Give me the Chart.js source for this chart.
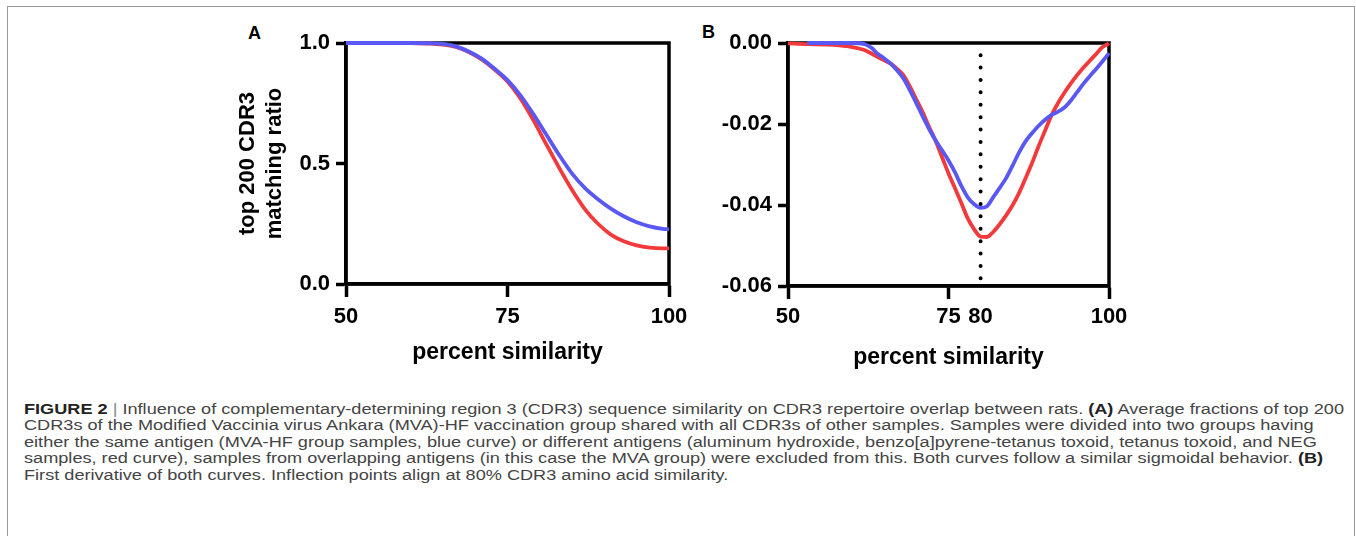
<!DOCTYPE html>
<html><head><meta charset="utf-8">
<script src="https://cdn.jsdelivr.net/npm/chart.js@4.4.1/dist/chart.umd.min.js"></script>
<style>
html,body{margin:0;padding:0;background:#fff;}
body{width:1356px;height:536px;position:relative;overflow:hidden;font-family:"Liberation Sans",Arial,sans-serif;}
#frame{position:absolute;left:7px;top:6px;width:1348px;height:600px;border:1.5px solid #9b9b9b;border-bottom:none;box-sizing:border-box;}
.wrap{position:absolute;top:0;overflow:hidden;}
#wa{left:200px;width:500px;height:390px;}
#wb{left:700px;width:428px;height:390px;}
.panel{position:absolute;font:bold 18px "Liberation Sans",Arial,sans-serif;line-height:18px;color:#000;}
.cap{position:absolute;left:24px;white-space:nowrap;font-family:"Liberation Sans Narrow","Liberation Sans",Arial,sans-serif;font-size:15.5px;line-height:16px;color:#444;transform-origin:0 50%;}
.cap b{color:#222;}
.cap .sep{color:#888;}
</style></head>
<body>
<div id="frame"></div>
<div class="panel" style="left:248px;top:24px;">A</div>
<div class="panel" style="left:702px;top:23px;">B</div>
<div class="wrap" id="wa"><canvas id="ca" width="500" height="390"></canvas></div>
<div class="wrap" id="wb"><canvas id="cb" width="450" height="390"></canvas></div>
<div id="caption">
<div class="cap"><b>FIGURE 2</b> <span class="sep">|</span> Influence of complementary-determining region 3 (CDR3) sequence similarity on CDR3 repertoire overlap between rats. <b>(A)</b> Average fractions of top 200</div>
<div class="cap">CDR3s of the Modified Vaccinia virus Ankara (MVA)-HF vaccination group shared with all CDR3s of other samples. Samples were divided into two groups having</div>
<div class="cap">either the same antigen (MVA-HF group samples, blue curve) or different antigens (aluminum hydroxide, benzo[a]pyrene-tetanus toxoid, tetanus toxoid, and NEG</div>
<div class="cap">samples, red curve), samples from overlapping antigens (in this case the MVA group) were excluded from this. Both curves follow a similar sigmoidal behavior. <b>(B)</b></div>
<div class="cap">First derivative of both curves. Inflection points align at 80% CDR3 amino acid similarity.</div>
</div>
<script>
// ---------- data ----------
const A_X = [50,55,60,63,65,67,69,71,73,75,77,79,81,83,85,87,89,91,93,95,97,99,100];
const A_BLUE = [1.0,1.0,1.0,0.999,0.996,0.986,0.965,0.935,0.893,0.846,0.783,0.705,0.62,0.535,0.458,0.398,0.352,0.313,0.281,0.256,0.239,0.229,0.227];
const A_RED  = [1.0,1.0,1.0,0.998,0.993,0.984,0.963,0.932,0.89,0.84,0.77,0.68,0.58,0.482,0.39,0.31,0.25,0.205,0.177,0.16,0.151,0.148,0.148];

const B_X = [50,53,56,58,60,62,63,64,65,66,67,68,69,70,71,72,73,74,75,76,77,78,79,80,81,82,83,84,85,86,87,88,89,90,91,92,93,94,95,96,97,98,99,100];
const B_RED = [-0.0001,-0.0003,-0.0004,-0.0006,-0.001,-0.0018,-0.0026,-0.0035,-0.0043,-0.0051,-0.0064,-0.008,-0.0108,-0.014,-0.0172,-0.0208,-0.0242,-0.0282,-0.0322,-0.0358,-0.0395,-0.0433,-0.046,-0.0478,-0.0479,-0.0466,-0.0447,-0.0425,-0.04,-0.037,-0.0334,-0.0297,-0.0256,-0.0218,-0.018,-0.015,-0.0124,-0.0101,-0.008,-0.0061,-0.0044,-0.0027,-0.001,-0.0001];
const B_BLUE = [null,0,0,0,0,-0.0003,-0.0012,-0.0027,-0.0038,-0.0051,-0.0068,-0.0088,-0.0117,-0.0149,-0.0182,-0.0213,-0.0241,-0.0265,-0.029,-0.0319,-0.0353,-0.0381,-0.0398,-0.0407,-0.0403,-0.038,-0.0357,-0.0333,-0.0302,-0.027,-0.0243,-0.0223,-0.0205,-0.019,-0.0178,-0.017,-0.016,-0.0143,-0.0122,-0.0101,-0.0082,-0.0064,-0.0045,-0.0025];

const A_X_TICKS = [50, 75, 100];
const A_Y_TICKS = [0, 0.5, 1.0];
const B_X_TICKS = [50, 75, 80, 100];
const B_Y_TICKS = [-0.06, -0.04, -0.02, 0];
const MARK_X = 80;              // inflection point marker
const MARK_Y = [-0.003, -0.0583];

// ---------- styles ----------
const RED = '#f23a3c', BLUE = '#5a58f4';
const FONT = '"Liberation Sans", Arial, sans-serif';
const tickFont = {family: FONT, size: 22, weight: 'bold'};
const titleFont = {family: FONT, size: 23, weight: 'bold'};
const yTitleFont = {family: FONT, size: 22, weight: 'bold'};

const pts = (xs, ys) => xs.map((x, i) => ({x, y: ys[i]}));

const framePlugin = {
  id: 'frame',
  beforeDatasetsDraw(chart) {
    const {ctx, chartArea: {left, top, right, bottom}} = chart;
    ctx.save();
    ctx.strokeStyle = '#000';
    ctx.lineWidth = 3.5;
    ctx.strokeRect(left, top, right - left, bottom - top);
    ctx.restore();
  }
};

function curve(data, color) {
  return {data, borderColor: color, borderWidth: 3.8, pointRadius: 0, fill: false,
          cubicInterpolationMode: 'monotone', clip: false, spanGaps: false};
}

function makeChart(id, cfg) {
  return new Chart(document.getElementById(id), {
    type: 'line',
    data: {datasets: cfg.datasets},
    options: {
      responsive: false, animation: false, devicePixelRatio: 1,
      layout: {padding: cfg.padding},
      plugins: {legend: {display: false}, tooltip: {enabled: false}},
      scales: {
        x: {
          type: 'linear', min: 50, max: 100,
          afterBuildTicks: s => { s.ticks = cfg.xTicks.map(v => ({value: v})); },
          afterFit: s => { s.height = cfg.xAxisH; },
          ticks: {autoSkip: false, maxRotation: 0, color: '#000', font: tickFont, padding: cfg.xTickPad,
                  callback: v => String(v)},
          grid: {drawOnChartArea: false, drawTicks: true, tickLength: 13, tickWidth: 3.5,
                 tickColor: c => (c.tick && c.tick.value === MARK_X) ? 'rgba(0,0,0,0)' : '#000'},
          border: {display: true, width: 3.5, color: '#000'},
          title: {display: true, text: 'percent similarity', color: '#000', font: titleFont,
                  padding: {top: 0, bottom: cfg.xTitlePad}}
        },
        y: {
          type: 'linear', min: cfg.yMin, max: cfg.yMax,
          afterBuildTicks: s => { s.ticks = cfg.yTicks.map(v => ({value: v})); },
          afterFit: s => { s.width = cfg.yAxisW; },
          ticks: {color: '#000', font: tickFont, padding: 6, callback: cfg.yFmt},
          grid: {drawOnChartArea: false, drawTicks: true, tickLength: 10, tickWidth: 3.5, tickColor: '#000'},
          border: {display: true, width: 3.5, color: '#000'},
          title: cfg.yTitle ? {display: true, text: cfg.yTitle, color: '#000', font: yTitleFont,
                  padding: {top: 35, bottom: 0}} : {display: false}
        }
      }
    },
    plugins: [framePlugin]
  });
}

makeChart('ca', {
  datasets: [curve(pts(A_X, A_BLUE), BLUE), curve(pts(A_X, A_RED), RED)],
  padding: {left: 0, top: 43, right: 31, bottom: 0},
  xTicks: A_X_TICKS, yTicks: A_Y_TICKS, yMin: 0, yMax: 1,
  xAxisH: 106, yAxisW: 146, xTickPad: 7, xTitlePad: 24,
  yFmt: v => Number(v).toFixed(1),
  yTitle: ['top 200 CDR3', 'matching ratio']
});

makeChart('cb', {
  datasets: [
    {data: [{x: MARK_X, y: MARK_Y[0]}, {x: MARK_X, y: MARK_Y[1]}], borderColor: '#000', borderWidth: 4,
     borderDash: [0, 12.4], borderCapStyle: 'round', pointRadius: 0, fill: false},
    curve(pts(B_X, B_BLUE), BLUE), curve(pts(B_X, B_RED), RED)
  ],
  padding: {left: 0, top: 43, right: 41, bottom: 0},
  xTicks: B_X_TICKS, yTicks: B_Y_TICKS, yMin: -0.06, yMax: 0,
  xAxisH: 104, yAxisW: 88, xTickPad: 5, xTitlePad: 19,
  yFmt: v => (Math.abs(v) < 1e-9 ? 0 : Number(v)).toFixed(2),
  yTitle: null
});

// ---------- caption layout ----------
const CAP_TOP = 409, CAP_STEP = 16.4, CAP_L1_WIDTH = 1320;
const caps = document.querySelectorAll('.cap');
caps.forEach((el, i) => { el.style.top = (CAP_TOP + i * CAP_STEP - 8) + 'px'; });
const w1 = caps[0].getBoundingClientRect().width;
const sx = CAP_L1_WIDTH / w1;
caps.forEach(el => { el.style.transform = 'scaleX(' + sx + ')'; });
</script>
</body></html>
